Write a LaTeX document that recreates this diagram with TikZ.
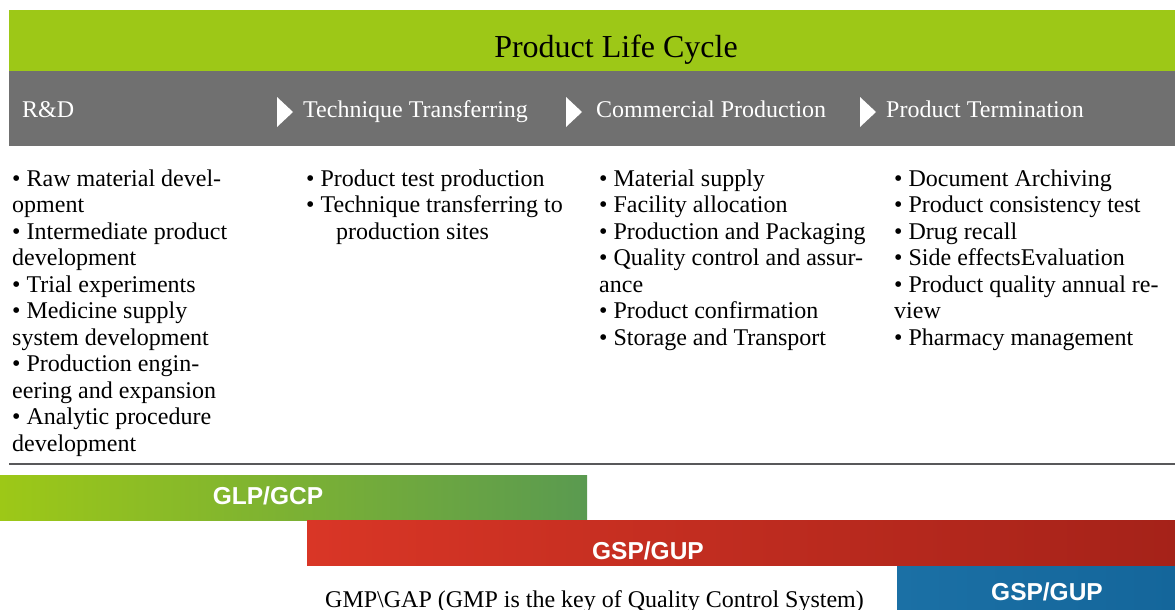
\documentclass[tikz,border=0pt]{standalone}
\usepackage{fontspec}
\setmainfont{Liberation Serif}
\newfontfamily\barfont{Liberation Sans}
\usepackage{tikz}
\definecolor{plcgreen}{RGB}{157,200,23}
\definecolor{plcgray}{RGB}{112,112,112}
\definecolor{plcrule}{RGB}{88,88,90}
\newcommand{\stagefont}{\fontsize{24}{26.5}\selectfont}

\begin{document}
\begin{tikzpicture}[x=1pt,y=-1pt,
		stage/.style={anchor=base west, inner sep=0pt, text=white, font=\stagefont},
		itemlist/.style={anchor=base west, inner sep=0pt, font=\stagefont},
		barlabel/.style={anchor=base, inner sep=0pt, text=white, font=\barfont\bfseries\fontsize{24.5}{26}\selectfont}]
	\useasboundingbox (0,0) rectangle (1175,610);
	% header
	\fill[plcgreen] (9,10) rectangle (1175,71);
	\fill[plcgray] (9,71) rectangle (1175,146);
	\node[anchor=base, inner sep=0pt, font=\fontsize{32}{36}\selectfont] (title) at (616,58) {Product Life Cycle};
	\node[stage] (rd) at (22,117) {R\&D};
	\node[stage] (transfer) at (303,117) {Technique Transferring};
	\node[stage] (commercial) at (596,117) {Commercial Production};
	\node[stage] (termination) at (886,117) {Product Termination};
	\foreach \tx in {277,566,860}
		\fill[white] (\tx,97) -- ++(16,15) -- ++(-16,15) -- cycle;
	% activities of each stage
	\node[itemlist] (rdlist) at (12,186) {\begin{tabular}[t]{@{}l@{}}
		• Raw material devel-\\
		opment\\
		• Intermediate product\\
		development\\
		• Trial experiments\\
		• Medicine supply\\
		system development\\
		• Production engin-\\
		eering and expansion\\
		• Analytic procedure\\
		development
	\end{tabular}};
	\node[itemlist] (transferlist) at (306,186) {\begin{tabular}[t]{@{}l@{}}
		• Product test production\\
		• Technique transferring to\\
		\hspace{30pt}production sites
	\end{tabular}};
	\node[itemlist] (commerciallist) at (599,186) {\begin{tabular}[t]{@{}l@{}}
		• Material supply\\
		• Facility allocation\\
		• Production and Packaging\\
		• Quality control and assur-\\
		ance\\
		• Product confirmation\\
		• Storage and Transport
	\end{tabular}};
	\node[itemlist] (terminationlist) at (894,186) {\begin{tabular}[t]{@{}l@{}}
		• Document Archiving\\
		• Product consistency test\\
		• Drug recall\\
		• Side effectsEvaluation\\
		• Product quality annual re-\\
		view\\
		• Pharmacy management
	\end{tabular}};
	\draw[plcrule, line width=2pt] (9,464) -- (1175,464);
	% quality practices
	\shade[left color=plcgreen, right color={rgb,255:red,90;green,154;blue,80}] (0,475) rectangle (587,520);
	\shade[left color={rgb,255:red,217;green,54;blue,38}, right color={rgb,255:red,165;green,34;blue,25}] (307,520) rectangle (1175,565);
	\shade[left color={rgb,255:red,27;green,112;blue,165}, right color={rgb,255:red,20;green,102;blue,155}] (897,566) rectangle (1175,610);
	\node[barlabel] (glp) at (268,504) {GLP/GCP};
	\node[barlabel] (gsp) at (648,559) {GSP/GUP};
	\node[barlabel] (gspb) at (1047,600) {GSP/GUP};
	\node[anchor=base west, inner sep=0pt, font=\stagefont] (gmp) at (325,607) {GMP\textbackslash GAP (GMP is the key of Quality Control System)};
\end{tikzpicture}
\end{document}
